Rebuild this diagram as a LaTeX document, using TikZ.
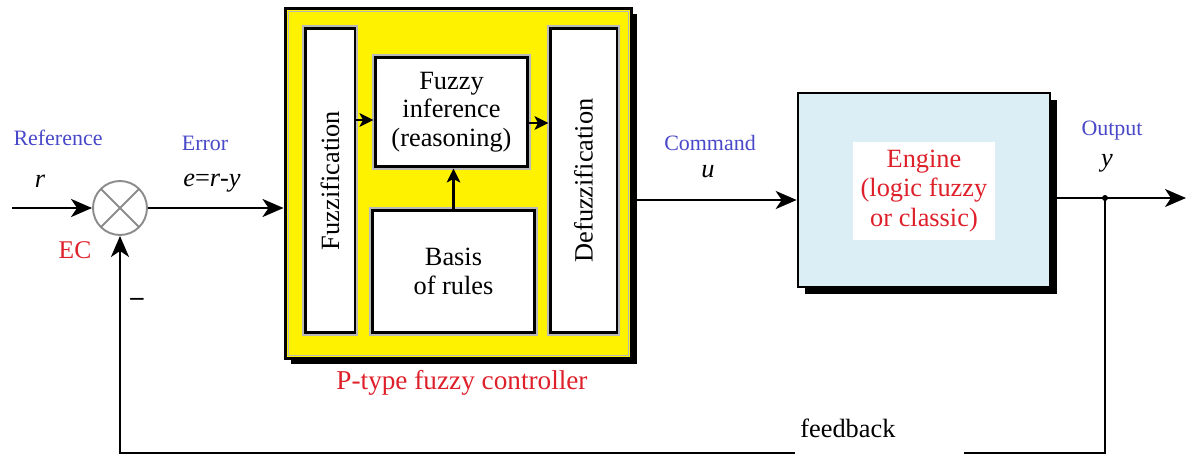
\documentclass[tikz,border=0pt]{standalone}
\usepackage{fontspec}
\setmainfont{Liberation Serif}
\usetikzlibrary{arrows.meta,shadows,calc}

\definecolor{lblblue}{RGB}{72,72,200}
\definecolor{lblred}{RGB}{222,32,42}
\definecolor{engfill}{RGB}{220,238,245}
\definecolor{halo}{RGB}{185,185,185}
\definecolor{sumgray}{RGB}{140,140,140}

\tikzset{
  blk/.style={draw=black, line width=1.7pt, fill=white, inner sep=0pt, align=center,
    font=\fontsize{15}{16.3}\selectfont, preaction={draw=halo, line width=3.3pt}},
  ctrlbox/.style={draw=black, line width=1.7pt, fill=yellow, inner sep=0pt,
    drop shadow={opacity=1, shadow xshift=0.11cm, shadow yshift=-0.11cm, fill=black}},
  engbox/.style={draw=black, line width=1.5pt, fill=engfill, inner sep=0pt,
    drop shadow={opacity=1, shadow xshift=0.14cm, shadow yshift=-0.14cm, fill=black}},
  sumnode/.style={circle, draw=sumgray, line width=1.1pt, minimum size=1.08cm, inner sep=0pt,
    path picture={\draw[sumgray, line width=1.1pt]
      (path picture bounding box.north west) -- (path picture bounding box.south east)
      (path picture bounding box.north east) -- (path picture bounding box.south west);}},
  mainarr/.style={line width=1.5pt, -{Stealth[length=0.42cm, width=0.36cm, inset=0.12cm]}},
  inarr/.style={line width=1.5pt, -{Stealth[length=0.28cm, width=0.27cm, inset=0.07cm]}},
  bluelbl/.style={text=lblblue, font=\fontsize{12.5}{14}\selectfont},
  redlbl/.style={text=lblred, font=\fontsize{14.5}{16}\selectfont},
  varlbl/.style={font=\fontsize{15}{16}\selectfont\itshape}
}

\begin{document}
\begin{tikzpicture}[x=0.02cm, y=-0.02cm]
  \useasboundingbox (0,0) rectangle (1187,456);

  % P-type fuzzy controller
  \node[ctrlbox, minimum width=6.94cm, minimum height=7.02cm] (ctrl) at (458.5,183.5) {};
  \draw[halo, line width=0.9pt] ([shift={(5,5)}]ctrl.north west) rectangle ([shift={(-5,-5)}]ctrl.south east);

  \node[blk, minimum width=1cm, minimum height=6.1cm] (fuzz) at (330,180.5) {\rotatebox{90}{Fuzzification}};
  \node[blk, minimum width=3.06cm, minimum height=2.2cm] (infer) at (451.5,112) {Fuzzy\\inference\\(reasoning)};
  \node[blk, minimum width=3.26cm, minimum height=2.46cm] (rules) at (453.5,271.5) {Basis\\of rules};
  \node[blk, minimum width=1.34cm, minimum height=6.1cm] (defuzz) at (583.5,180.5) {\rotatebox{90}{Defuzzification}};

  \coordinate (inL) at ($(infer.west)+(0,8)$);
  \coordinate (inR) at ($(infer.east)+(0,11)$);
  \draw[inarr] (inL -| fuzz.east) -- (inL);
  \draw[inarr] (inR) -- (inR -| defuzz.west);
  \draw[inarr] (rules.north) -- (rules.north |- infer.south);

  \node[redlbl, font=\fontsize{15.5}{17}\selectfont] (ctrllbl) at (462,383) {P-type fuzzy controller};

  % engine
  \node[engbox, minimum width=5.04cm, minimum height=3.88cm] (engine) at (924,190) {};
  \node[fill=white, text=lblred, align=center, minimum width=2.84cm, minimum height=1.96cm,
    inner sep=0pt, font=\fontsize{15}{17}\selectfont] (engtxt) at (924,191) {Engine\\(logic fuzzy\\or classic)};

  % summing junction
  \node[sumnode] (sum) at (120,208) {};

  \coordinate (in) at (12,208);
  \coordinate (cmd) at (700,200);
  \coordinate (tap) at (1105,198);
  \coordinate (out) at (1186,198);
  \coordinate (fb) at (600,453);

  \draw[mainarr] (in) -- (sum.west);
  \draw[mainarr] (sum.east) -- (sum.east -| ctrl.west);
  \draw[mainarr] (ctrl.east |- cmd) -- (cmd -| engine.west);
  \draw[mainarr, line width=1.2pt] (engine.east |- tap) -- (out);
  \draw[mainarr, line width=1.4pt] (tap) |- (sum |- fb) -- (sum.south);
  \fill (tap) circle (3);

  % labels
  \node[bluelbl] (reflbl) at (58,138) {Reference};
  \node[varlbl] (rlbl) at (40,181) {r};
  \node[bluelbl] (errlbl) at (205,143) {Error};
  \node[font=\fontsize{15}{16}\selectfont] (elbl) at (212,183) {\textit{e}=\textit{r}-\textit{y}};
  \node[redlbl] (eclbl) at (75,250) {EC};
  \node[font=\fontsize{15}{16}\selectfont\bfseries] (minus) at (137,302) {--};
  \node[bluelbl] (cmdlbl) at (710,143) {Command};
  \node[varlbl] (ulbl) at (708,172) {u};
  \node[bluelbl] (outlbl) at (1112,131) {Output};
  \node[varlbl] (ylbl) at (1107,163) {y};
  \node[fill=white, anchor=north west, inner sep=0.1cm, text width=3.18cm, align=left,
    text height=0.32cm, text depth=0.45cm, font=\fontsize{15}{16}\selectfont] (fblbl) at (795,416) {feedback};
\end{tikzpicture}
\end{document}
